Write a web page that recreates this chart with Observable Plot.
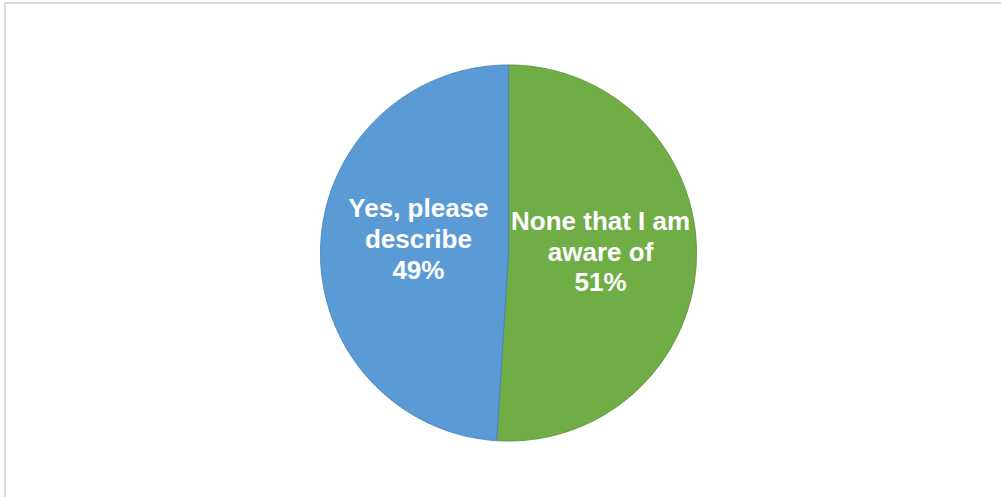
<!DOCTYPE html>
<html>
<head>
<meta charset="utf-8">
<script src="https://cdn.jsdelivr.net/npm/d3@7"></script>
<script src="https://cdn.jsdelivr.net/npm/@observablehq/plot@0.6"></script>
<style>
  html, body { margin: 0; padding: 0; background: #fff; overflow: hidden; }
  #wrap { position: relative; width: 1001px; height: 497px; }
  #frame { position: absolute; left: 4px; top: 2px; width: 1010px; height: 510px;
           border: 2px solid #d9d9d9; box-sizing: border-box; pointer-events: none; }
</style>
</head>
<body>
<div id="wrap"><div id="frame"></div></div>
<script>
// Data
const categories = ["None that I am aware of", "Yes, please describe"];
const values = [51, 49];
const labels = ["None that I am\naware of\n51%", "Yes, please\ndescribe\n49%"];
const colors = ["#70ad47", "#5b9bd5"];
const strokes = ["#5e9439", "#4a86bd"];

const rows = categories.map((c, i) => ({category: c, value: values[i], label: labels[i]}));
const arcs = d3.pie().sort(null).value(d => d.value)(rows);

// Polygon points for each slice (angle clockwise from top)
const pts = [];
for (const a of arcs) {
  const c = a.data.category;
  pts.push({category: c, x: 0, y: 0});
  const n = Math.max(2, Math.ceil((a.endAngle - a.startAngle) / 0.005));
  for (let k = 0; k <= n; k++) {
    const t = a.startAngle + (a.endAngle - a.startAngle) * k / n;
    pts.push({category: c, x: Math.sin(t), y: Math.cos(t)});
  }
  pts.push({category: c, x: 0, y: 0});
}
const labelPts = arcs.map(a => {
  const t = (a.startAngle + a.endAngle) / 2;
  return {category: a.data.category, label: a.data.label, x: 0.49 * Math.sin(t), y: 0.49 * Math.cos(t)};
});

const textOpts = {
  x: "x", y: "y", text: "label", fill: "white",
  fontSize: 26, fontWeight: "bold", lineHeight: 1.18, textAnchor: "middle"
};

const chart = Plot.plot({
  width: 1001,
  height: 497,
  margin: 0,
  x: {domain: [-1, 1], range: [320, 696], axis: null},
  y: {domain: [-1, 1], range: [440.5, 64.5], axis: null},
  color: {domain: categories, range: colors},
  style: {fontFamily: "'Liberation Sans', Arial, sans-serif", background: "transparent"},
  marks: [
    Plot.line(pts, {x: "x", y: "y", z: "category", fill: "category", stroke: "category", strokeWidth: 1, curve: "linear"}),
    Plot.text(labelPts.filter(d => d.category === categories[0]), {...textOpts, dy: -5}),
    Plot.text(labelPts.filter(d => d.category === categories[1]), {...textOpts, dx: 2, dy: -12})
  ]
});
document.getElementById("wrap").appendChild(chart);
chart.style.position = "absolute";
chart.style.left = "0";
chart.style.top = "0";
// slice outline colours, in category order
const paths = chart.querySelectorAll("g[aria-label='line'] path");
paths.forEach((p, i) => { p.setAttribute("stroke", strokes[i % strokes.length]); });
</script>
</body>
</html>
